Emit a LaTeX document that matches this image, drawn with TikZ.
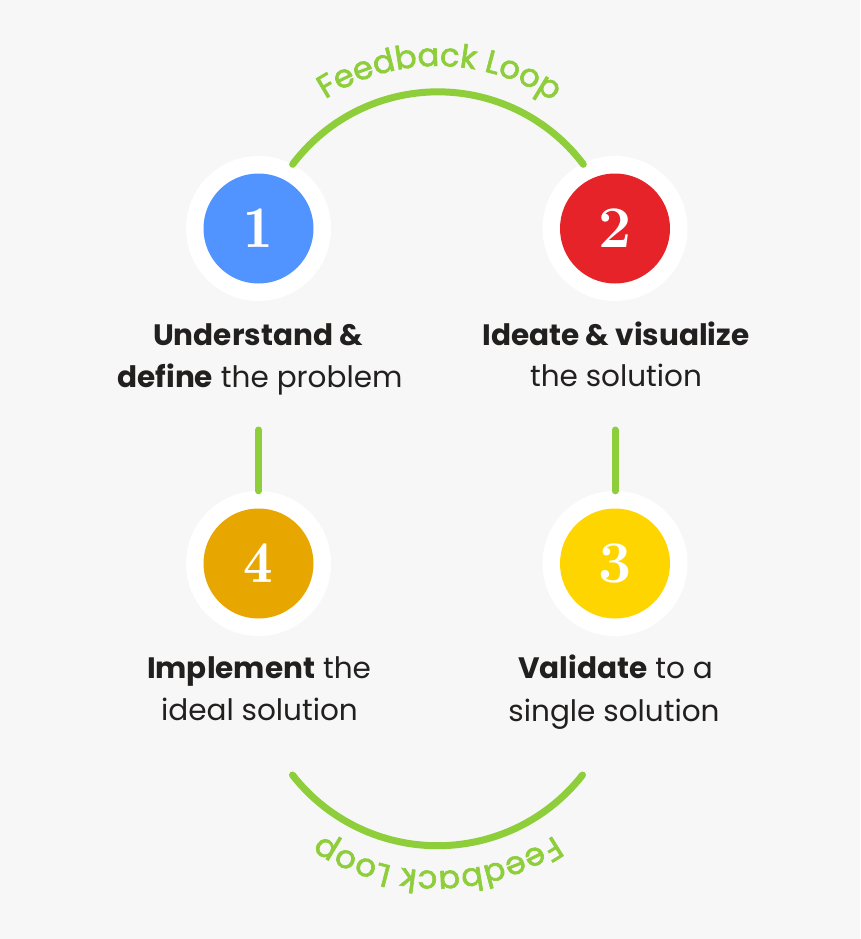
\documentclass[tikz,border=0pt]{standalone}
\usepackage{fontspec}
\newfontfamily\lblfont{Poppins}
\newfontfamily\loopfont[FakeBold=2]{Poppins}
\newfontfamily\numdemi{lmromandemi10-regular.otf}
\usetikzlibrary{decorations.text}
\definecolor{bg}{HTML}{F7F7F7}
\definecolor{cblue}{HTML}{5294FF}
\definecolor{cred}{HTML}{E62328}
\definecolor{corange}{HTML}{E8A700}
\definecolor{cyellow}{HTML}{FFD500}
\definecolor{lgreen}{HTML}{8ECE3A}
\definecolor{ink}{HTML}{221F1F}
\tikzset{
  ring/.style={circle, fill=white, minimum size=145pt, inner sep=0pt},
  disc/.style={circle, fill=#1, minimum size=110pt, inner sep=0pt, text=white},
  numA/.style={font=\numdemi\fontsize{59}{59}\selectfont},
  numB/.style={font=\fontsize{59}{59}\selectfont\bfseries},
  lbl/.style={anchor=base, text=ink, inner sep=0pt, font=\lblfont\fontsize{29.5}{34}\selectfont},
  loopline/.style={draw=lgreen, line width=7pt, line cap=round},
  looptext/.style={decorate, decoration={text along path, text align={fit to path},
      text color=lgreen, text={|\loopfont\fontsize{32}{32}\selectfont|#1}}}
}
\begin{document}
\begin{tikzpicture}[x=1pt,y=-1pt]
\fill[bg] (0,0) rectangle (860,939);
\useasboundingbox (0,0) rectangle (860,939);

% rings
\node[ring] (ring1) at (258.5,228.5) {};
\node[ring] (ring2) at (615,228.5) {};
\node[ring] (ring4) at (258.5,563.5) {};
\node[ring] (ring3) at (615,563.5) {};

% connectors
\draw[loopline] (ring1.62) arc[start angle=217, end angle=323, radius=182];
\coordinate (b1) at (292.5,775);
\draw[loopline] (b1) arc[start angle=142, end angle=38, radius=184];
\coordinate (v1) at (258.5,430);
\coordinate (v2) at (615,430);
\draw[loopline] (v1) -- (ring4.north);
\draw[loopline] (v2) -- (ring3.north);

% discs
\node[disc=cblue, numA] (n1) at (ring1.center) {1};
\node[disc=cred, numB] (n2) at (ring2.center) {2};
\node[disc=corange, numA] (n4) at (ring4.center) {4};
\node[disc=cyellow, numB] (n3) at (ring3.center) {3};

% labels
\node[lbl] (l1a) at (258,345) {\textbf{Understand \&}};
\node[lbl] (l1b) at (260,387) {\textbf{define} the problem};
\node[lbl] (l2a) at (616,345) {\textbf{Ideate \& visualize}};
\node[lbl] (l2b) at (616,386) {the solution};
\node[lbl] (l4a) at (259,678) {\textbf{Implement} the};
\node[lbl] (l4b) at (259.5,720) {ideal solution};
\node[lbl] (l3a) at (615.5,678) {\textbf{Validate} to a};
\node[lbl] (l3b) at (614,721) {single solution};

% loop texts
\path[looptext={Feedback Loop}] (437.5,272) ++(237:206) arc[start angle=237, end angle=302, radius=206];
\path[looptext={Feedback Loop}] (437.5,663) ++(56:208) arc[start angle=56, end angle=124, radius=208];
\end{tikzpicture}
\end{document}
